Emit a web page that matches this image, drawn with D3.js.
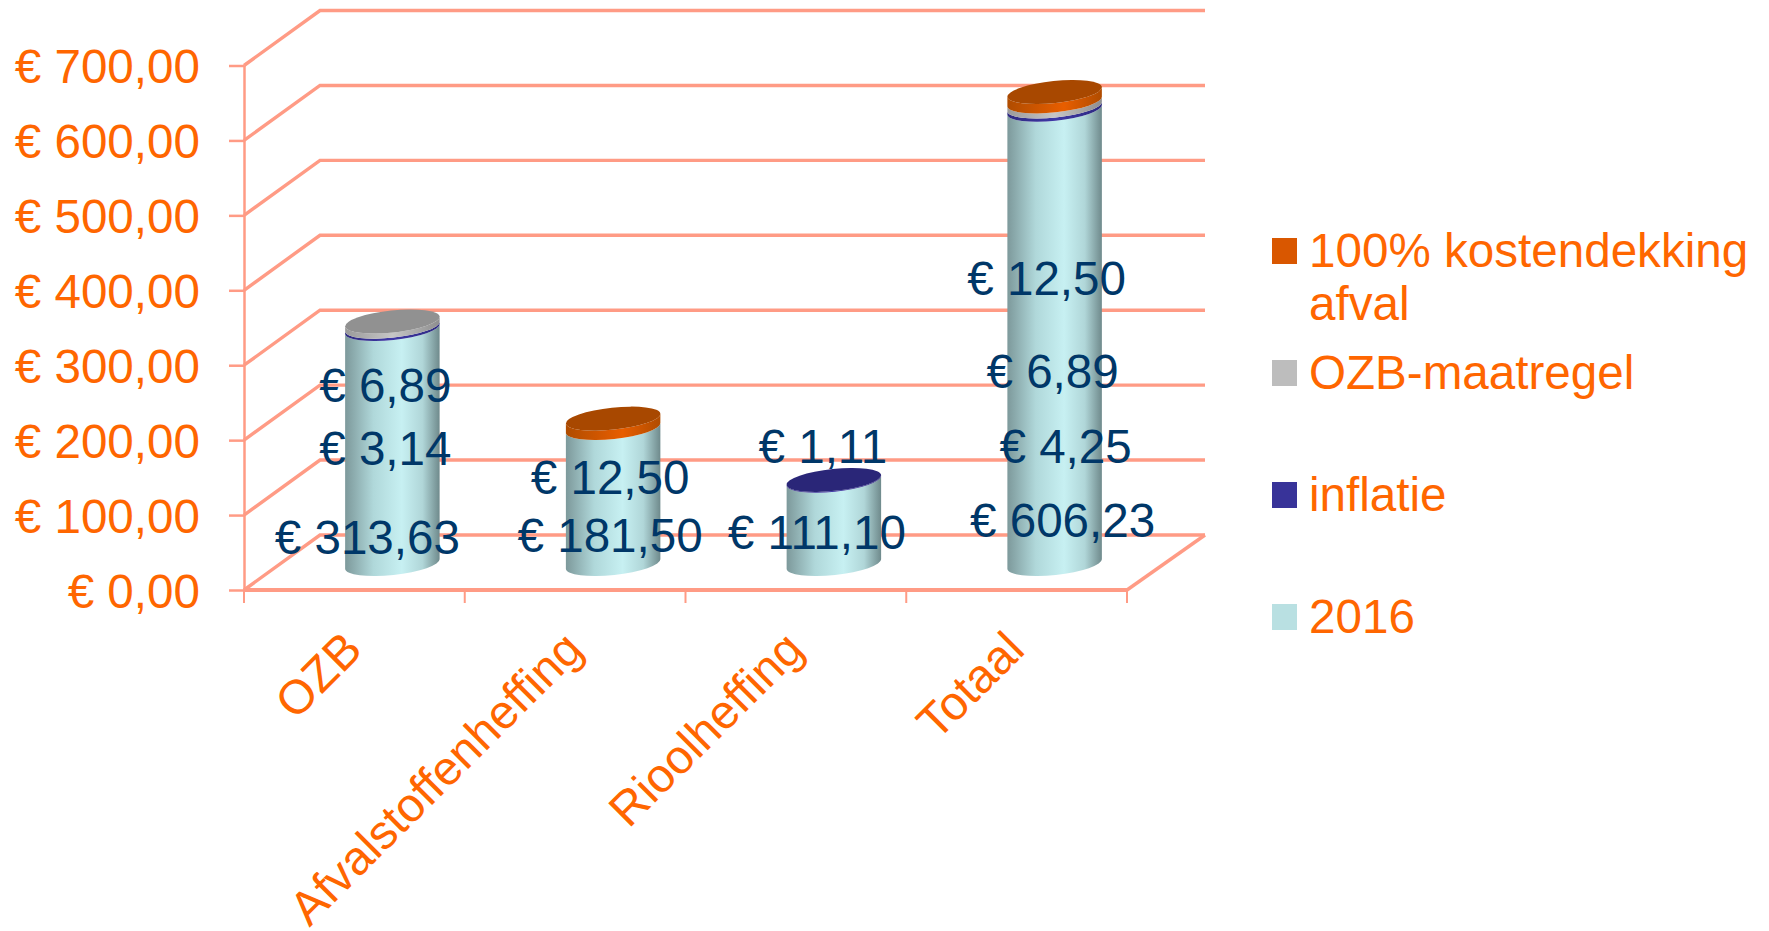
<!DOCTYPE html>
<html><head><meta charset="utf-8">
<script src="https://cdnjs.cloudflare.com/ajax/libs/d3/7.8.5/d3.min.js"></script>
<style>html,body{margin:0;padding:0;background:#fff}svg{display:block}text{font-family:"Liberation Sans",Arial,sans-serif}</style>
</head><body><svg id="c" width="1769" height="931"></svg>
<script>
const categories = ["OZB","Afvalstoffenheffing","Rioolheffing","Totaal"];
const seriesNames = ["2016","inflatie","OZB-maatregel","100% kostendekking afval"];
const v2016 = [313.63,181.50,111.10,606.23];
const vInflatie = [3.14,0,1.11,4.25];
const vOzb = [6.89,0,0,6.89];
const vAfval = [0,12.50,0,12.50];
const yTicks = [0,100,200,300,400,500,600,700];

// label nudges relative to each segment's middle (layout only)
const nudge2016 = [[-25,107],[-3,56],[-17,27],[8,200]];
const nudgeInflatie = [[-7,137],null,[-11,-17],[11,355]];
const nudgeOzb = [[-7,78],null,null,[-2,284]];
const nudgeAfval = [null,[-3,71],null,[-8,198]];

const seriesValues = [v2016,vInflatie,vOzb,vAfval];
const nudges = [nudge2016,nudgeInflatie,nudgeOzb,nudgeAfval];
const sideStops = [
 [["0","#7d999b"],["0.3","#b0d8da"],["0.6","#c7f0f2"],["0.82","#b0d6d8"],["1","#6f8a8c"]],
 [["0","#2e2a80"],["0.5","#3e38a6"],["1","#2e2a80"]],
 [["0","#9a9a9a"],["0.5","#c6c6c6"],["1","#8e8e8e"]],
 [["0","#b04c00"],["0.6","#e85e00"],["1","#b04c00"]]
];
const topColors = ["#b5dfe1","#2a2678","#919191","#a84800"];
const legendColors = ["#b9e0e2","#383399","#bdbdbd","#d95700"];

const ORANGE="#ff6600", GRID="#ff9b85", NAVY="#003768", FS=47.6;
const svg=d3.select("#c");
const X0=244,X1=1127,Y0=590,Y1=65.5,DXL=76,DXR=78,DY=-55;
const x=d3.scaleBand().domain(categories).range([X0,X1]);
const y=d3.scaleLinear().domain([0,700]).range([Y0,Y1]);
const loc=d3.formatLocale({decimal:",",thousands:".",grouping:[3],currency:["€ ",""]});
const fmt=loc.format("$,.2f");

// side and back walls
const grid=svg.append("g").attr("stroke",GRID).attr("stroke-width",3.4).attr("fill","none");
grid.selectAll("path.w").data(yTicks).join("path").attr("class","w")
  .attr("d",t=>d3.line()([[X0,y(t)],[X0+DXL,y(t)+DY],[X1+DXR,y(t)+DY]]));
grid.append("path").attr("d",d3.line()([[X1,Y0],[X1+DXR,Y0+DY]]));

// axes
const yAxis=svg.append("g").attr("transform",`translate(${X0},0)`)
  .call(d3.axisLeft(y).tickValues(yTicks).tickFormat(fmt).tickSize(15).tickSizeOuter(0).tickPadding(29));
yAxis.selectAll("line").attr("stroke",GRID).attr("stroke-width",2.5);
yAxis.select(".domain").attr("stroke",GRID).attr("stroke-width",2.5);
yAxis.selectAll("text").attr("fill",ORANGE).attr("font-size",FS).attr("dy","0.36em")
  .style("font-family",'"Liberation Sans",Arial,sans-serif');

const xAxis=svg.append("g").attr("transform",`translate(0,${Y0})`);
xAxis.append("line").attr("x1",X0).attr("x2",X1).attr("stroke",GRID).attr("stroke-width",4);
xAxis.selectAll("line.t").data([...categories.map(c=>x(c)),X1]).join("line").attr("class","t")
  .attr("x1",d=>d).attr("x2",d=>d).attr("y1",0).attr("y2",13).attr("stroke",GRID).attr("stroke-width",2);
xAxis.selectAll("text").data(categories).join("text")
  .attr("transform",c=>`translate(${x(c)+x.bandwidth()/2+10},62) rotate(-45)`)
  .attr("text-anchor","end").attr("fill",ORANGE).attr("font-size",FS).text(c=>c);

// gradients
const defs=svg.append("defs");
sideStops.forEach((st,i)=>{
  const g=defs.append("linearGradient").attr("id","g"+i);
  st.forEach(s=>g.append("stop").attr("offset",s[0]).attr("stop-color",s[1]));
});

// cylinders
const RX=47.5,RY=11,ROT=-6;
const baseOff=-26, midX=c=>x(c)+x.bandwidth()/2+38;
const rad=ROT*Math.PI/180, ex=RX*Math.cos(rad), ey=RX*Math.sin(rad);
const yv=v=>y(v)+baseOff;
const gc=svg.append("g");
categories.forEach((c,ci)=>{
  let cum=0, lastIdx=0, top=0;
  const cx=midX(c);
  seriesValues.forEach((vals,si)=>{
    const v=vals[ci];
    if(!v) return;
    const a=yv(cum), b=yv(cum+v);
    const arc=(xx,yy,s)=>`A${RX},${RY} ${ROT} 0 ${s} ${xx},${yy}`;
    gc.append("path").attr("fill",`url(#g${si})`)
      .attr("d",`M${cx-ex},${a-ey}${arc(cx+ex,a+ey,0)}L${cx+ex},${b+ey}${arc(cx-ex,b-ey,1)}Z`);
    cum+=v; lastIdx=si; top=b;
  });
  gc.append("ellipse").attr("rx",RX).attr("ry",RY).attr("fill",topColors[lastIdx])
    .attr("transform",`translate(${cx},${top}) rotate(${ROT})`);
});

// data labels
const gl=svg.append("g");
categories.forEach((c,ci)=>{
  let cum=0; const cx=midX(c);
  seriesValues.forEach((vals,si)=>{
    const v=vals[ci];
    if(!v) return;
    const n=nudges[si][ci];
    gl.append("text").attr("x",cx+n[0]).attr("y",yv(cum+v/2)+n[1])
      .attr("text-anchor","middle").attr("fill",NAVY).attr("font-size",FS).text(fmt(v));
    cum+=v;
  });
});

// legend
const legendRows=[...seriesNames].reverse();
const legendColorsR=[...legendColors].reverse();
const legY=d3.scalePoint().domain(legendRows).range([238,604]);
const lg=svg.append("g").selectAll("g").data(legendRows).join("g");
lg.append("rect").attr("x",1272).attr("y",d=>legY(d)).attr("width",25).attr("height",26)
  .attr("fill",(d,i)=>legendColorsR[i]);
lg.each(function(d){
  const lines=d==="100% kostendekking afval"?["100% kostendekking","afval"]:[d];
  const t=d3.select(this).append("text").attr("fill",ORANGE).attr("font-size",FS).attr("y",legY(d)+29);
  lines.forEach((l,i)=>t.append("tspan").attr("x",1309).attr("dy",i?53:0).text(l));
});
</script></body></html>
